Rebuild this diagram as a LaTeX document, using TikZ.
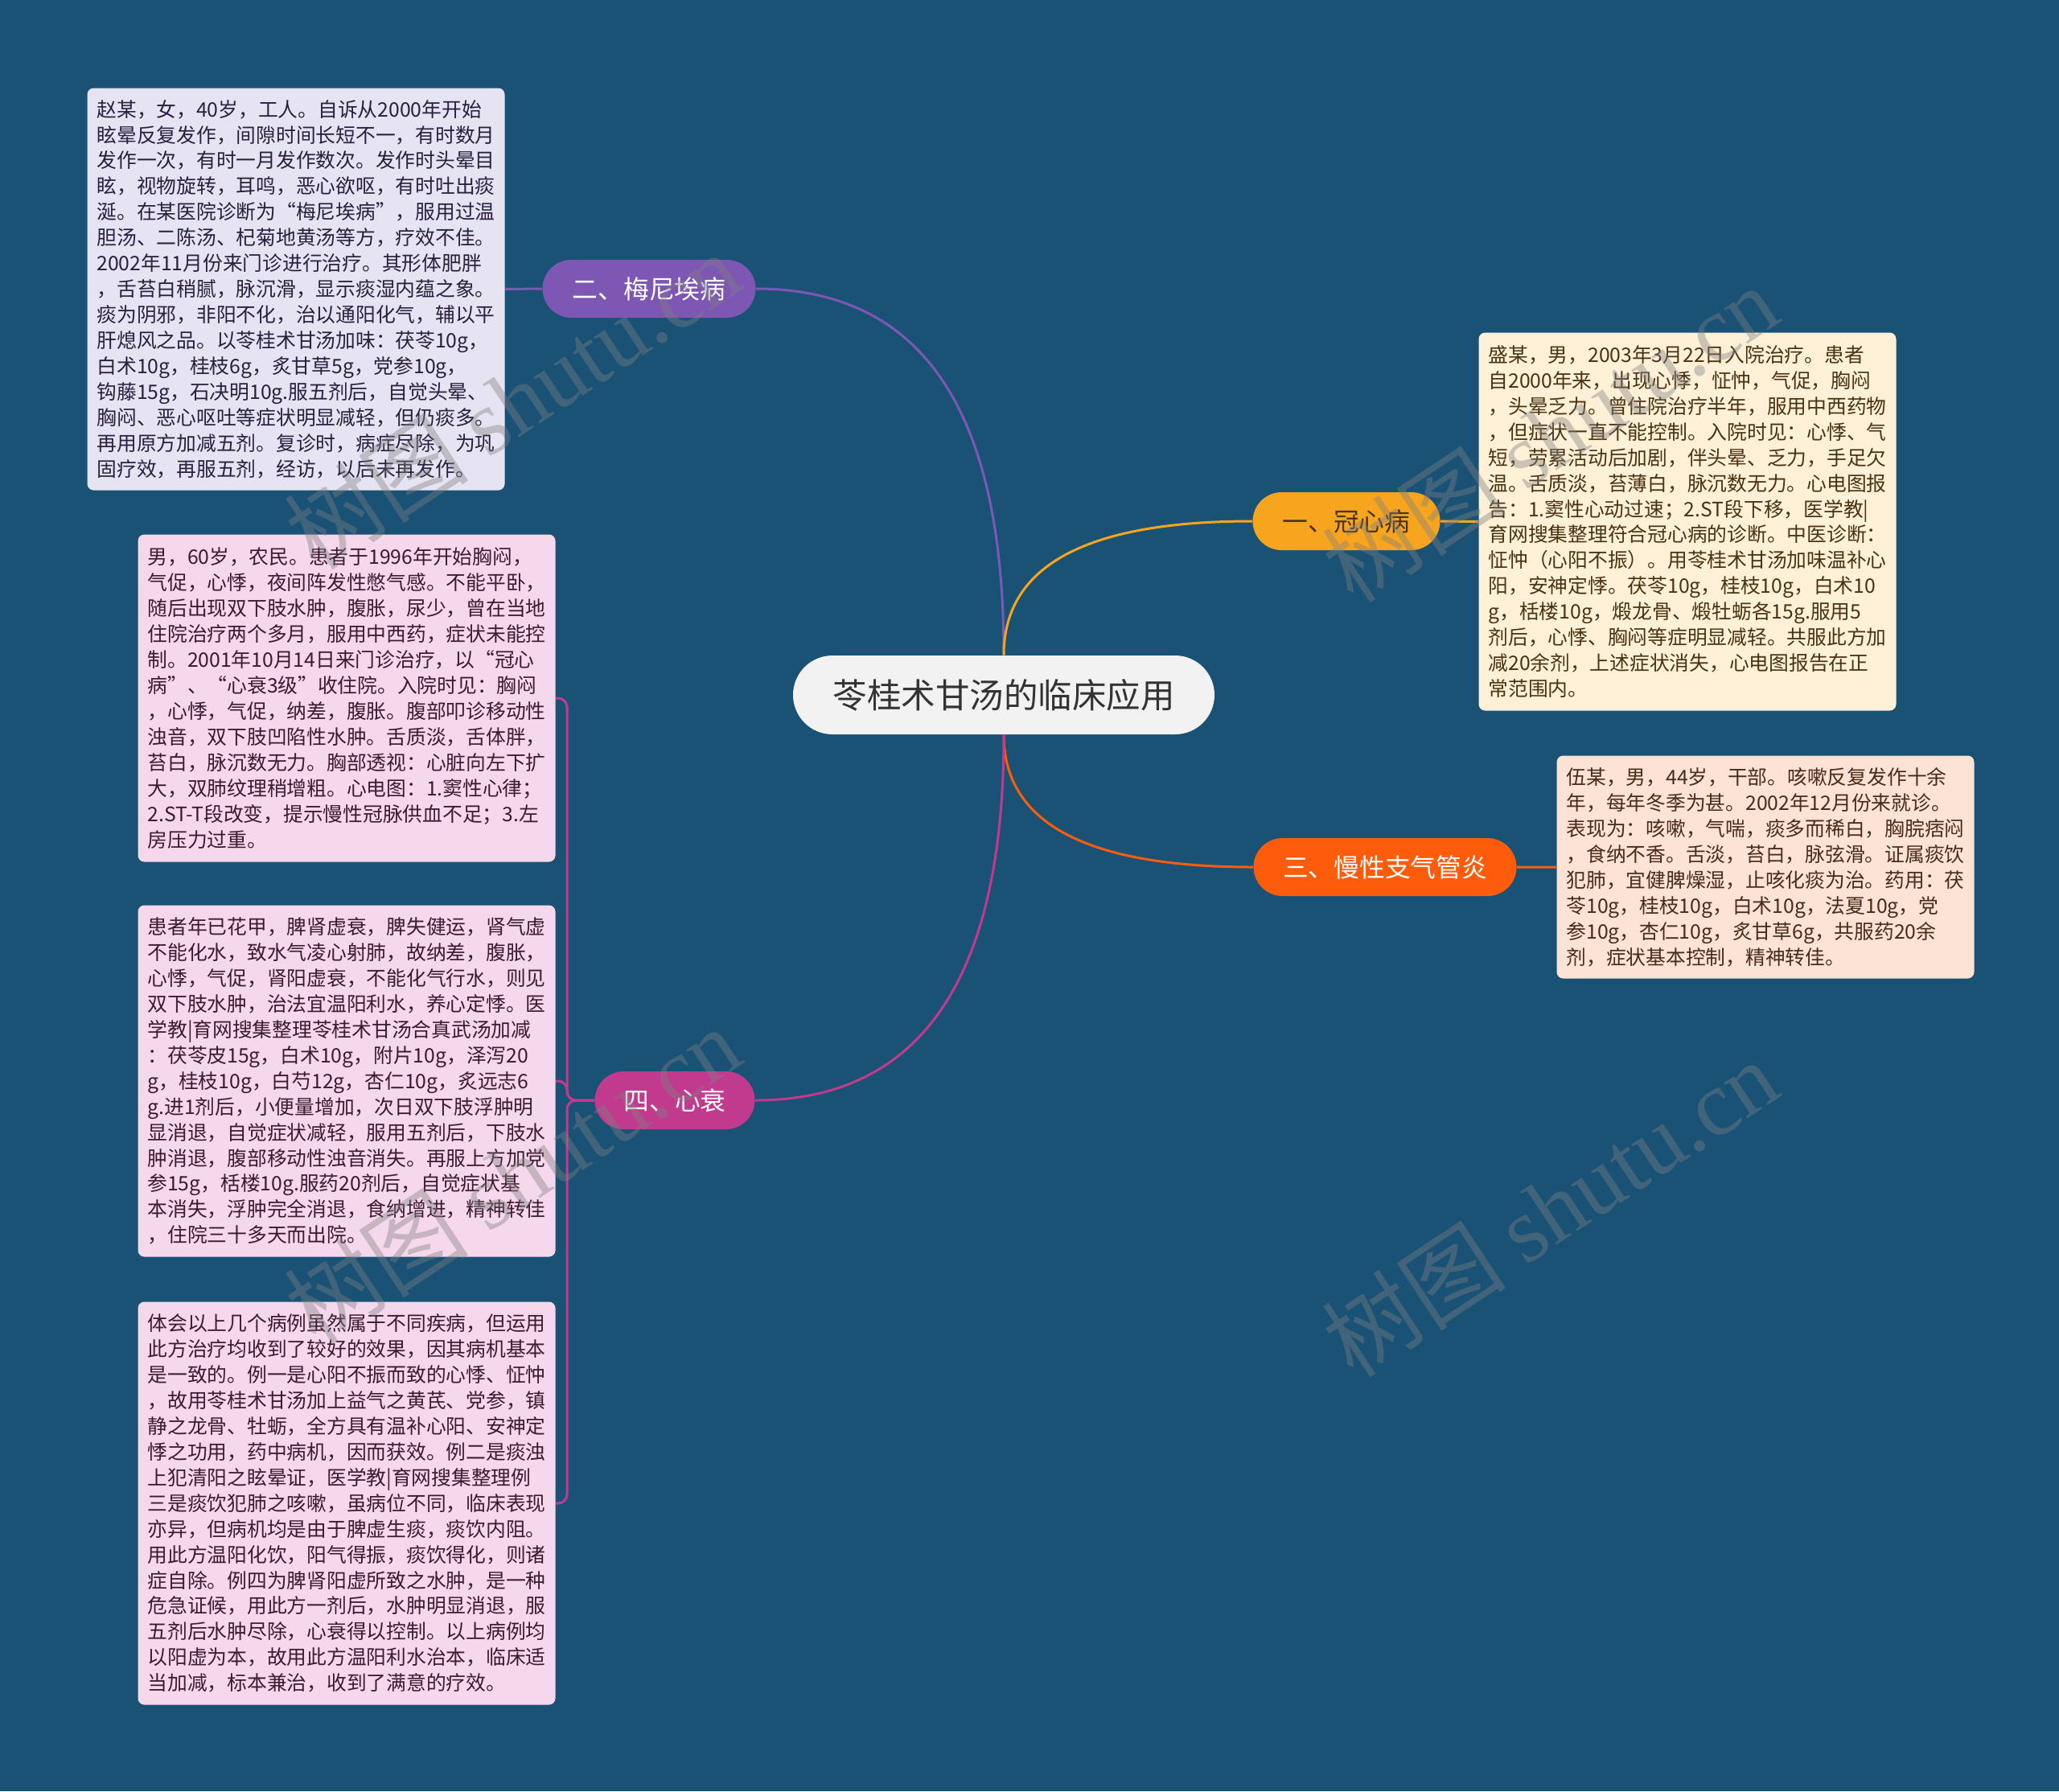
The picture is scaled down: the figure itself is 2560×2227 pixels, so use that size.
\documentclass[tikz,border=0pt]{standalone}
\usepackage{fontspec}
\setmainfont{Noto Sans CJK SC}
\newfontfamily\wmlatin{Liberation Serif}
\definecolor{bg}{HTML}{1A5276}
\definecolor{cpurple}{HTML}{7E57B4}
\definecolor{cyellow}{HTML}{F7A51E}
\definecolor{corange}{HTML}{FD5C0A}
\definecolor{cmag}{HTML}{C13A8E}
\definecolor{rootfill}{HTML}{F2F2F2}
\definecolor{fpurple}{HTML}{E6E3F2}
\definecolor{fyellow}{HTML}{FEF1D7}
\definecolor{forange}{HTML}{FDE3D5}
\definecolor{fmag}{HTML}{F5D8EB}
\definecolor{tpurple}{HTML}{2B1F3F}
\definecolor{tyellow}{HTML}{4A3212}
\definecolor{torange}{HTML}{4A2A18}
\definecolor{tmag}{HTML}{3D1A30}
\definecolor{tdark}{HTML}{333333}
\definecolor{wmgray}{HTML}{808080}
\begin{document}
\begin{tikzpicture}[x=0.4pt,y=-0.4pt,
  detail/.style={anchor=north west, rounded corners=3.2pt, align=left,
    text width=198pt, inner xsep=4.8pt, inner ysep=0pt, minimum height=#1,
    font=\fontsize{9.9pt}{12.78pt}\selectfont},
  branch/.style={rounded corners=14.4pt, minimum height=28.8pt, inner sep=0pt,
    font=\fontsize{12.7pt}{14pt}\selectfont},
  link/.style={line width=1.2pt},
  fork/.style={line width=1.2pt, cmag, rounded corners=4.5pt},
  wm/.style={text=wmgray, opacity=0.4, rotate=33.5,
    font=\fontsize{46pt}{48pt}\selectfont}
]
\fill[bg] (0,0) rectangle (2560,2227);
\useasboundingbox (0,0) rectangle (2560,2227);

% nodes
\node[fill=rootfill, text=tdark, rounded corners=19.6pt, minimum width=209.6pt,
  minimum height=39.2pt, inner sep=0pt, font=\fontsize{17pt}{19pt}\selectfont]
  (root) at (1248,864) {苓桂术甘汤的临床应用};
\node[branch, fill=cpurple, text=white, minimum width=106pt] (mei) at (807,359) {二、梅尼埃病};
\node[branch, fill=cyellow, text=tyellow, minimum width=93.2pt] (guan) at (1674,648) {一、冠心病};
\node[branch, fill=corange, text=white, minimum width=130.8pt] (man) at (1722,1078) {三、慢性支气管炎};
\node[branch, fill=cmag, text=white, minimum width=79.6pt] (xin) at (839,1368) {四、心衰};

% main connectors
\draw[link, cpurple] (root.north) .. controls +(0,-304) and +(207,0) .. (mei.east);
\draw[link, cyellow] (root.north) .. controls +(0,-111) and +(-207,0) .. (guan.west);
\draw[link, corange] (root.south) .. controls +(0,110) and +(-207,0) .. (man.west);
\draw[link, cmag] (root.south) .. controls +(0,303) and +(206,0) .. (xin.east);

% detail boxes
\node[detail=200pt, fill=fpurple, text=tpurple] (d2) at (108,109) {赵某，女，40岁，工人。自诉从2000年开始\\
眩晕反复发作，间隙时间长短不一，有时数月\\
发作一次，有时一月发作数次。发作时头晕目\\
眩，视物旋转，耳鸣，恶心欲呕，有时吐出痰\\
涎。在某医院诊断为“梅尼埃病”，服用过温\\
胆汤、二陈汤、杞菊地黄汤等方，疗效不佳。\\
2002年11月份来门诊进行治疗。其形体肥胖\\
，舌苔白稍腻，脉沉滑，显示痰湿内蕴之象。\\
痰为阴邪，非阳不化，治以通阳化气，辅以平\\
肝熄风之品。以苓桂术甘汤加味：茯苓10g，\\
白术10g，桂枝6g，炙甘草5g，党参10g，\\
钩藤15g，石决明10g.服五剂后，自觉头晕、\\
胸闷、恶心呕吐等症状明显减轻，但仍痰多。\\
再用原方加减五剂。复诊时，病症尽除，为巩\\
固疗效，再服五剂，经访，以后未再发作。};

\node[detail=188pt, fill=fyellow, text=tyellow] (d1) at (1838,413) {盛某，男，2003年3月22日入院治疗。患者\\
自2000年来，出现心悸，怔忡，气促，胸闷\\
，头晕乏力。曾住院治疗半年，服用中西药物\\
，但症状一直不能控制。入院时见：心悸、气\\
短，劳累活动后加剧，伴头晕、乏力，手足欠\\
温。舌质淡，苔薄白，脉沉数无力。心电图报\\
告：1.窦性心动过速；2.ST段下移，医学教|\\
育网搜集整理符合冠心病的诊断。中医诊断：\\
怔忡（心阳不振）。用苓桂术甘汤加味温补心\\
阳，安神定悸。茯苓10g，桂枝10g，白术10\\
g，栝楼10g，煅龙骨、煅牡蛎各15g.服用5\\
剂后，心悸、胸闷等症明显减轻。共服此方加\\
减20余剂，上述症状消失，心电图报告在正\\
常范围内。};

\node[detail=110.8pt, fill=forange, text=torange] (d3) at (1935,939) {伍某，男，44岁，干部。咳嗽反复发作十余\\
年，每年冬季为甚。2002年12月份来就诊。\\
表现为：咳嗽，气喘，痰多而稀白，胸脘痞闷\\
，食纳不香。舌淡，苔白，脉弦滑。证属痰饮\\
犯肺，宜健脾燥湿，止咳化痰为治。药用：茯\\
苓10g，桂枝10g，白术10g，法夏10g，党\\
参10g，杏仁10g，炙甘草6g，共服药20余\\
剂，症状基本控制，精神转佳。};

\node[detail=162.8pt, fill=fmag, text=tmag] (d4a) at (171,664) {男，60岁，农民。患者于1996年开始胸闷，\\
气促，心悸，夜间阵发性憋气感。不能平卧，\\
随后出现双下肢水肿，腹胀，尿少，曾在当地\\
住院治疗两个多月，服用中西药，症状未能控\\
制。2001年10月14日来门诊治疗，以“冠心\\
病”、“心衰3级”收住院。入院时见：胸闷\\
，心悸，气促，纳差，腹胀。腹部叩诊移动性\\
浊音，双下肢凹陷性水肿。舌质淡，舌体胖，\\
苔白，脉沉数无力。胸部透视：心脏向左下扩\\
大，双肺纹理稍增粗。心电图：1.窦性心律；\\
2.ST-T段改变，提示慢性冠脉供血不足；3.左\\
房压力过重。};

\node[detail=174.8pt, fill=fmag, text=tmag] (d4b) at (171,1125) {患者年已花甲，脾肾虚衰，脾失健运，肾气虚\\
不能化水，致水气凌心射肺，故纳差，腹胀，\\
心悸，气促，肾阳虚衰，不能化气行水，则见\\
双下肢水肿，治法宜温阳利水，养心定悸。医\\
学教|育网搜集整理苓桂术甘汤合真武汤加减\\
：茯苓皮15g，白术10g，附片10g，泽泻20\\
g，桂枝10g，白芍12g，杏仁10g，炙远志6\\
g.进1剂后，小便量增加，次日双下肢浮肿明\\
显消退，自觉症状减轻，服用五剂后，下肢水\\
肿消退，腹部移动性浊音消失。再服上方加党\\
参15g，栝楼10g.服药20剂后，自觉症状基\\
本消失，浮肿完全消退，食纳增进，精神转佳\\
，住院三十多天而出院。};

\node[detail=200.4pt, fill=fmag, text=tmag] (d4c) at (171,1618) {体会以上几个病例虽然属于不同疾病，但运用\\
此方治疗均收到了较好的效果，因其病机基本\\
是一致的。例一是心阳不振而致的心悸、怔忡\\
，故用苓桂术甘汤加上益气之黄芪、党参，镇\\
静之龙骨、牡蛎，全方具有温补心阳、安神定\\
悸之功用，药中病机，因而获效。例二是痰浊\\
上犯清阳之眩晕证，医学教|育网搜集整理例\\
三是痰饮犯肺之咳嗽，虽病位不同，临床表现\\
亦异，但病机均是由于脾虚生痰，痰饮内阻。\\
用此方温阳化饮，阳气得振，痰饮得化，则诸\\
症自除。例四为脾肾阳虚所致之水肿，是一种\\
危急证候，用此方一剂后，水肿明显消退，服\\
五剂后水肿尽除，心衰得以控制。以上病例均\\
以阳虚为本，故用此方温阳利水治本，临床适\\
当加减，标本兼治，收到了满意的疗效。};

% secondary connectors
\draw[link, cpurple] (mei.west) -- (d2.east);
\draw[link, cyellow] (guan.east) -- (d1.west);
\draw[link, corange] (man.east) -- (d3.west);
\draw[fork] (xin.west) -| ([xshift=5.6pt]d4a.east) -- (d4a.east);
\draw[fork] (xin.west) -| ([xshift=5.6pt]d4b.east) -- (d4b.east);
\draw[fork] (xin.west) -| ([xshift=5.6pt]d4c.east) -- (d4c.east);

% watermarks
\node[wm] (wm1) at (637,498) {树图 {\wmlatin shutu.cn}};
\node[wm] (wm2) at (1927,539) {树图 {\wmlatin shutu.cn}};
\node[wm] (wm3) at (637,1461) {树图 {\wmlatin shutu.cn}};
\node[wm] (wm4) at (1927,1502) {树图 {\wmlatin shutu.cn}};
\end{tikzpicture}
\end{document}
